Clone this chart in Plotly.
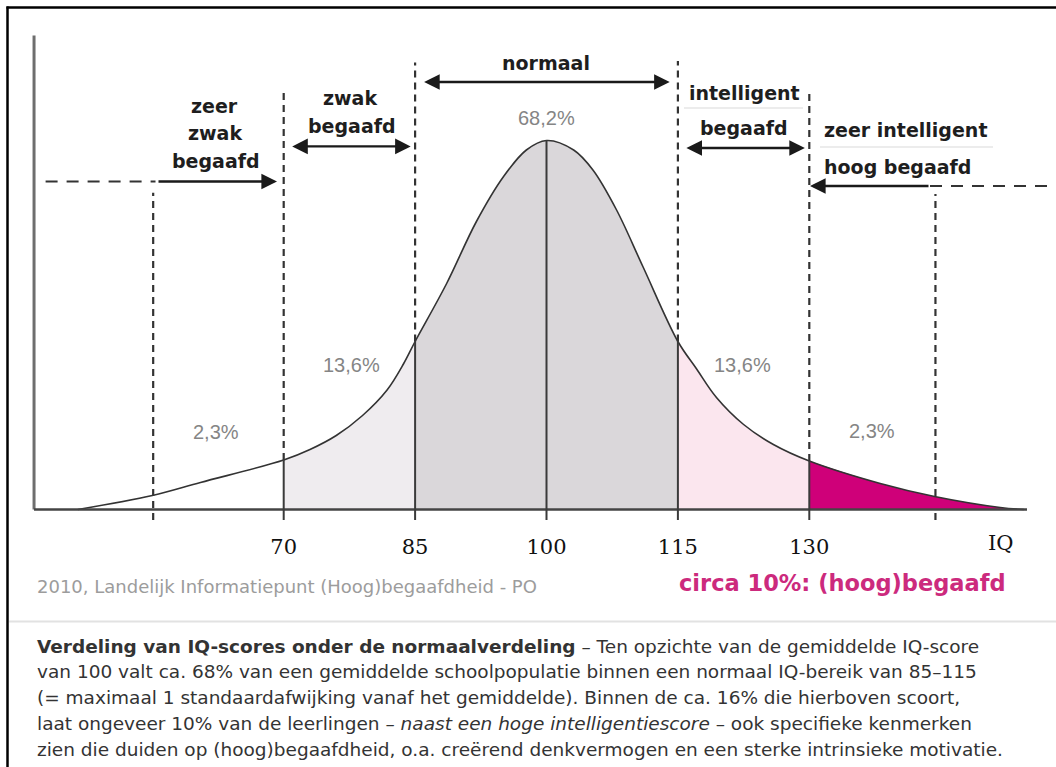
import plotly.graph_objects as go

W, H = 1056, 767

# ---------------- data ----------------
iq_points = [46.5, 55, 60.5, 70, 73, 76, 79, 81.8, 83.7, 85, 88.6, 92, 95.1, 97.7, 100,
             103.1, 105.3, 108, 111, 115, 117.1, 119.4, 122.5, 125.9, 130, 138.1, 144.3, 151.8, 154.5]
heights = [0, 14, 27, 49.5, 60, 74, 94, 119.5, 146, 168, 226, 288, 333, 359.5, 369,
           359.5, 339.5, 299.5, 243, 168, 141, 112, 85, 65, 48.5, 26, 13, 2, 0]

boundaries = [70, 85, 100, 115, 130]
tick_labels = ["70", "85", "100", "115", "130"]
segment_edges = [46.5, 70, 85, 115, 130, 154.5]
segment_fills = [None, "#efecef", "#dad7da", "#fbe6ee", "#cf0079"]
outer_lines = [55.1, 144.4]

pct_labels = ["2,3%", "13,6%", "68,2%", "13,6%", "2,3%"]
source_text = "2010, Landelijk Informatiepunt (Hoog)begaafdheid - PO"
highlight_text = "circa 10%: (hoog)begaafd"
caption_lines = [
    "<b>Verdeling van IQ-scores onder de normaalverdeling</b> – Ten opzichte van de gemiddelde IQ-score",
    "van 100 valt ca. 68% van een gemiddelde schoolpopulatie binnen een normaal IQ-bereik van 85–115",
    "(= maximaal 1 standaardafwijking vanaf het gemiddelde). Binnen de ca. 16% die hierboven scoort,",
    "laat ongeveer 10% van de leerlingen – <i>naast een hoge intelligentiescore</i> – ook specifieke kenmerken",
    "zien die duiden op (hoog)begaafdheid, o.a. creërend denkvermogen en een sterke intrinsieke motivatie.",
]

# ---------------- geometry helpers ----------------
IQ_MIN, PX_PER_IQ = 37.614, 8.76
AXIS_Y = 509.5


def px(x):
    return x / W


def py(y):
    return 1 - y / H


def hy(y):  # pixel row -> data height
    return AXIS_Y - y


h_at = dict(zip(iq_points, heights))

fig = go.Figure()

# filled segments under the curve
for i in range(len(segment_edges) - 1):
    lo, hi = segment_edges[i], segment_edges[i + 1]
    fc = segment_fills[i]
    if not fc:
        continue
    xs = [x for x in iq_points if lo <= x <= hi]
    ys = [h_at[x] for x in xs]
    fig.add_trace(go.Scatter(
        x=xs, y=ys, mode="lines",
        line=dict(color="rgba(0,0,0,0)", width=0, shape="spline", smoothing=1.0),
        fill="tozeroy", fillcolor=fc,
        hoverinfo="skip", showlegend=False,
    ))

# the bell-curve outline
fig.add_trace(go.Scatter(
    x=iq_points, y=heights, mode="lines",
    line=dict(color="#333333", width=1.6, shape="spline", smoothing=1.0),
    hoverinfo="skip", showlegend=False,
))

shapes = []
# outer frame
shapes.append(dict(type="line", xref="paper", yref="paper", x0=px(7.5), x1=px(7.5), y0=py(6.5), y1=py(767),
                   line=dict(color="#000", width=2.5)))
shapes.append(dict(type="line", xref="paper", yref="paper", x0=px(6.5), x1=px(1056), y0=py(7.5), y1=py(7.5),
                   line=dict(color="#000", width=2.5)))
# separator
shapes.append(dict(type="line", xref="paper", yref="paper", x0=px(9), x1=px(1056), y0=py(621.5), y1=py(621.5),
                   line=dict(color="#e2e2e2", width=2)))

# axes
shapes.append(dict(type="line", xref="x", yref="y", x0=41.5, x1=41.5, y0=0, y1=hy(35.5),
                   line=dict(color="#6e6e6e", width=3)))
shapes.append(dict(type="line", xref="x", yref="y", x0=41.5, x1=154.85, y0=0, y1=0,
                   line=dict(color="#444444", width=2.5)))

# solid verticals at boundaries (curve to just below axis)
for b in boundaries:
    shapes.append(dict(type="line", xref="x", yref="y", x0=b, x1=b, y0=hy(520), y1=h_at[b],
                       line=dict(color="#3a3a3a", width=2)))

# dashed verticals above the curve
dash_tops = {70: 89.6, 85: 62.5, 115: 61, 130: 91}
for b, top in dash_tops.items():
    shapes.append(dict(type="line", xref="x", yref="y", x0=b, x1=b, y0=h_at[b], y1=hy(top),
                       line=dict(color="#333", width=2.2, dash="7px,5px")))
for b, top in zip(outer_lines, [192.7, 194]):
    shapes.append(dict(type="line", xref="x", yref="y", x0=b, x1=b, y0=hy(520), y1=hy(top), layer="below",
                       line=dict(color="#333", width=2.2, dash="7px,5px")))

# dashed horizontal continuations of the outer arrows
shapes.append(dict(type="line", xref="paper", yref="paper", x0=px(45.6), x1=px(155.5), y0=py(181.5), y1=py(181.5),
                   line=dict(color="#333", width=2, dash="12px,9px")))
shapes.append(dict(type="line", xref="paper", yref="paper", x0=px(930), x1=px(1048), y0=py(186), y1=py(186),
                   line=dict(color="#333", width=2, dash="12px,9px")))
# faint rule lines under labels
shapes.append(dict(type="line", xref="paper", yref="paper", x0=px(684), x1=px(803), y0=py(108), y1=py(108),
                   line=dict(color="#ececec", width=2)))
shapes.append(dict(type="line", xref="paper", yref="paper", x0=px(820), x1=px(993), y0=py(147), y1=py(147),
                   line=dict(color="#ececec", width=2)))

ann = []
BOLD = dict(family="DejaVu Sans", size=19, color="#1e1e1e")


def label(text, x, y, font, xanchor="center"):
    ann.append(dict(text=text, x=px(x), y=py(y), xref="paper", yref="paper", showarrow=False,
                    xanchor=xanchor, yanchor="middle", font=font))


def arrow(head_x, tail_x, y, both=False):
    d = dict(text="", x=px(head_x), y=py(y), xref="paper", yref="paper", ax=tail_x - head_x, ay=0,
             axref="pixel", ayref="pixel", showarrow=True, arrowhead=2, arrowsize=1.3, arrowwidth=2.4,
             arrowcolor="#1a1a1a", standoff=0)
    if both:
        d.update(arrowside="end+start", startarrowhead=2, startarrowsize=1.3, startstandoff=0)
    ann.append(d)


# region labels
label("<b>zeer</b>", 214.7, 106.5, BOLD)
label("<b>zwak</b>", 214.7, 133.5, BOLD)
label("<b>begaafd</b>", 216, 160.6, BOLD)
label("<b>zwak</b>", 350, 98, BOLD)
label("<b>begaafd</b>", 351.6, 125.8, BOLD)
label("<b>normaal</b>", 546, 63, BOLD)
label("<b>intelligent</b>", 744, 93, BOLD)
label("<b>begaafd</b>", 744, 127.8, BOLD)
label("<b>zeer intelligent</b>", 822, 130, BOLD, xanchor="left")
label("<b>hoog begaafd</b>", 822, 167, BOLD, xanchor="left")

arrow(277, 157, 181.5)
arrow(410.7, 290.7, 146.4, both=True)
arrow(669.7, 422.6, 82, both=True)
arrow(804.9, 684.9, 148, both=True)
arrow(810, 930, 186)

# percentage labels
PCT = dict(family="Liberation Sans", size=20, color="#858585")
for t, (x, y) in zip(pct_labels, [(216, 432), (351, 365), (546, 118), (742, 365), (872, 431)]):
    label(t, x, y, PCT)

# IQ axis name
label("IQ", 1001, 543, dict(family="DejaVu Serif", size=21, color="#111"))

# source and highlight
label(source_text, 35, 586, dict(family="DejaVu Sans", size=18, color="#9c9c9c"), xanchor="left")
label("<b>" + highlight_text + "</b>", 1008, 583, dict(family="DejaVu Sans", size=22.5, color="#cc2a7d"),
      xanchor="right")

# caption
for i, line in enumerate(caption_lines):
    label(line, 35, 646 + i * 25.8, dict(family="DejaVu Sans", size=18.5, color="#333"), xanchor="left")

fig.update_layout(
    width=W, height=H, margin=dict(l=0, r=0, t=0, b=0),
    paper_bgcolor="white", plot_bgcolor="white",
    showlegend=False,
    shapes=shapes, annotations=ann,
    xaxis=dict(range=[IQ_MIN, IQ_MIN + W / PX_PER_IQ], domain=[0, 1], anchor="free", position=py(AXIS_Y),
               showline=False, showgrid=False, zeroline=False, ticks="",
               tickvals=boundaries, ticktext=tick_labels, ticklabelstandoff=22,
               tickfont=dict(family="DejaVu Serif", size=21, color="#111"), fixedrange=True),
    yaxis=dict(range=[AXIS_Y - H, AXIS_Y], visible=False, fixedrange=True),
)

fig.write_html("out.html", config={"displayModeBar": False},
               post_script="document.body.style.margin='0';document.body.style.overflow='hidden';")
